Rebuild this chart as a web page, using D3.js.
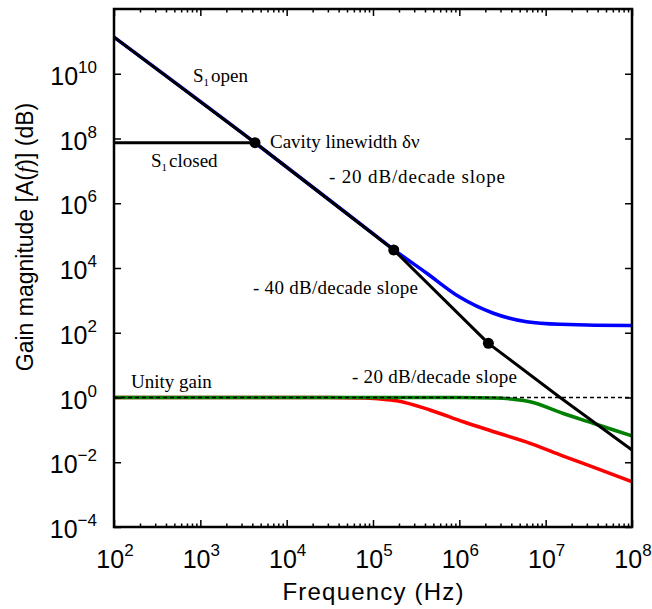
<!DOCTYPE html>
<html>
<head>
<meta charset="utf-8">
<script src="https://cdn.jsdelivr.net/npm/d3@7"></script>
<style>
  html, body { margin: 0; padding: 0; background: #fff; }
  svg { display: block; }
</style>
</head>
<body>
<svg id="chart" width="652" height="609"></svg>
<script>
// ---------- data ----------
const xMajorTicks = [1e2, 1e3, 1e4, 1e5, 1e6, 1e7, 1e8];
const xTickExponents = ["2", "3", "4", "5", "6", "7", "8"];
const yMajorTicks = [1e-4, 1e-2, 1e0, 1e2, 1e4, 1e6, 1e8, 1e10];
const yTickExponents = ["\u22124", "\u22122", "0", "2", "4", "6", "8", "10"];

// S1 open (black) loop gain
const openFreq = [1e2, 4.3e3, 1.74e5, 2.17e6, 1.47e7, 1e8];
const openGain = [1.35e11, 7.4e7, 3.6e4, 47, 1.0, 0.024];

// S1 closed (black, flat up to the cavity linewidth)
const closedFreq = [1e2, 4.3e3];
const closedGain = [7.4e7, 7.4e7];

// blue curve
const blueFreq = [1e2, 4.3e3, 1e5, 1.74e5, 4.19e5, 1.02e6, 2.48e6, 6.0e6, 1.47e7, 9.5e7, 1e8];
const blueGain = [1.35e11, 7.4e7, 1.15e5, 3.7e4, 6.9e3, 1.24e3, 400, 219, 182, 166, 166];

// green curve
const greenFreq = [1e2, 1e6, 2.7e6, 4.0e6, 6.6e6, 1.6e7, 3.55e7, 1e8];
const greenGain = [1, 1, 0.97, 0.9, 0.74, 0.32, 0.16, 0.065];

// red curve
const redFreq = [1e2, 3e4, 7.9e4, 1.2e5, 1.88e5, 4.57e5, 1.11e6, 2.69e6, 6.6e6, 1.6e7, 3.89e7, 1e8];
const redGain = [1, 1, 0.97, 0.9, 0.794, 0.411, 0.178, 0.083, 0.0385, 0.0155, 0.00646, 0.00251];

// unity gain reference
const unityFreq = [1e2, 1e8];
const unityGain = [1, 1];

// corner markers
const markerFreq = [4.3e3, 1.74e5, 2.17e6];
const markerGain = [7.4e7, 3.6e4, 47];

// ---------- chart ----------
const svg = d3.select("#chart");
const L = 114, R = 632, T = 9, B = 527;
const x = d3.scaleLog().domain([1e2, 1e8]).range([L, R]);
const y = d3.scaleLog().domain([1e-4, 1e12]).range([B, T]);

const pts = (fs, gs) => fs.map((f, i) => [f, gs[i]]);
const line = d3.line().x(d => x(d[0])).y(d => y(d[1])).curve(d3.curveMonotoneX);
const straight = d3.line().x(d => x(d[0])).y(d => y(d[1]));

const plot = svg.append("g");

plot.append("path").attr("d", line(pts(blueFreq, blueGain)))
  .attr("fill", "none").attr("stroke", "#0000ff").attr("stroke-width", 3.5);
plot.append("path").attr("d", line(pts(redFreq, redGain)))
  .attr("fill", "none").attr("stroke", "#ff0000").attr("stroke-width", 3.5);
plot.append("path").attr("d", line(pts(greenFreq, greenGain)))
  .attr("fill", "none").attr("stroke", "#008000").attr("stroke-width", 3.5);
plot.append("path").attr("d", straight(pts(openFreq, openGain)))
  .attr("fill", "none").attr("stroke", "#000").attr("stroke-width", 3)
  .attr("stroke-linejoin", "round");
plot.append("path").attr("d", straight(pts(closedFreq, closedGain)))
  .attr("fill", "none").attr("stroke", "#000").attr("stroke-width", 3);
plot.append("path").attr("d", straight(pts(unityFreq, unityGain)))
  .attr("fill", "none").attr("stroke", "#000").attr("stroke-width", 1.6)
  .attr("stroke-dasharray", "4,3");

plot.selectAll("circle.m").data(pts(markerFreq, markerGain)).enter()
  .append("circle").attr("class", "m")
  .attr("cx", d => x(d[0])).attr("cy", d => y(d[1])).attr("r", 5.5)
  .attr("fill", "#000");

// ---------- axes ----------
const minorX = [];
for (let e = 2; e < 8; e++) for (let k = 2; k <= 9; k++) minorX.push(k * Math.pow(10, e));

function styleAxis(g) {
  g.select(".domain").remove();
  g.selectAll(".tick text").remove();
  g.selectAll(".tick line").attr("stroke", "#000").attr("stroke-width", 1.5);
}
svg.append("g").attr("transform", `translate(0,${B})`)
  .call(d3.axisBottom(x).tickValues(xMajorTicks).tickSize(-7).tickSizeOuter(0)).call(styleAxis);
svg.append("g").attr("transform", `translate(0,${B})`)
  .call(d3.axisBottom(x).tickValues(minorX).tickSize(-3.5).tickSizeOuter(0)).call(styleAxis);
svg.append("g").attr("transform", `translate(0,${T})`)
  .call(d3.axisTop(x).tickValues(xMajorTicks).tickSize(-7).tickSizeOuter(0)).call(styleAxis);
svg.append("g").attr("transform", `translate(0,${T})`)
  .call(d3.axisTop(x).tickValues(minorX).tickSize(-3.5).tickSizeOuter(0)).call(styleAxis);
svg.append("g").attr("transform", `translate(${L},0)`)
  .call(d3.axisLeft(y).tickValues(yMajorTicks).tickSize(-7).tickSizeOuter(0)).call(styleAxis);
svg.append("g").attr("transform", `translate(${R},0)`)
  .call(d3.axisRight(y).tickValues(yMajorTicks).tickSize(-7).tickSizeOuter(0)).call(styleAxis);

svg.append("rect").attr("x", L).attr("y", T).attr("width", R - L).attr("height", B - T)
  .attr("fill", "none").attr("stroke", "#000").attr("stroke-width", 2.5);

const sans = "Liberation Sans, Arial, sans-serif";
const serif = "Liberation Serif, Times New Roman, serif";

// x tick labels
xMajorTicks.forEach((v, i) => {
  const t = svg.append("text").attr("x", x(v) + 1).attr("y", 568)
    .attr("text-anchor", "middle").attr("font-family", sans).attr("font-size", 25).attr("fill", "#000");
  t.append("tspan").text("10");
  t.append("tspan").attr("dy", -12).attr("font-size", 17).text(xTickExponents[i]);
});
// y tick labels
yMajorTicks.forEach((v, i) => {
  const t = svg.append("text").attr("x", 97).attr("y", y(v) + 11)
    .attr("text-anchor", "end").attr("font-family", sans).attr("font-size", 25).attr("fill", "#000");
  t.append("tspan").text("10");
  t.append("tspan").attr("dy", -12).attr("font-size", 17).text(yTickExponents[i]);
});

// axis titles
svg.append("text").attr("x", (L + R) / 2).attr("y", 600).attr("text-anchor", "middle")
  .attr("font-family", sans).attr("font-size", 24).attr("textLength", 181)
  .attr("lengthAdjust", "spacing").text("Frequency (Hz)");

const yt = svg.append("text").attr("transform", "translate(33,237) rotate(-90)")
  .attr("text-anchor", "middle").attr("font-family", sans).attr("font-size", 23);
yt.append("tspan").text("Gain magnitude [A(");
yt.append("tspan").attr("font-family", serif).attr("font-style", "italic").text("f");
yt.append("tspan").text(")] (dB)");

// annotations
function ann(xp, yp, parts, len) {
  const t = svg.append("text").attr("x", xp).attr("y", yp)
    .attr("font-family", serif).attr("font-size", 19).attr("fill", "#000");
  if (len) t.attr("textLength", len).attr("lengthAdjust", "spacing");
  parts.forEach(p => {
    const s = t.append("tspan").text(p.t);
    if (p.sub) s.attr("font-size", 11).attr("dy", 4);
    if (p.back) s.attr("dy", -4).attr("dx", 2);
  });
}
ann(193, 82, [{t: "S"}, {t: "1", sub: true}, {t: "open", back: true}]);
ann(151, 167, [{t: "S"}, {t: "1", sub: true}, {t: "closed", back: true}]);
ann(270, 148, [{t: "Cavity linewidth \u03b4\u03bd"}]);
ann(329, 183, [{t: "- 20 dB/decade slope"}], 176);
ann(253, 294, [{t: "- 40 dB/decade slope"}], 165);
ann(352, 383, [{t: "- 20 dB/decade slope"}], 165);
ann(131, 388, [{t: "Unity gain"}]);
</script>
</body>
</html>
